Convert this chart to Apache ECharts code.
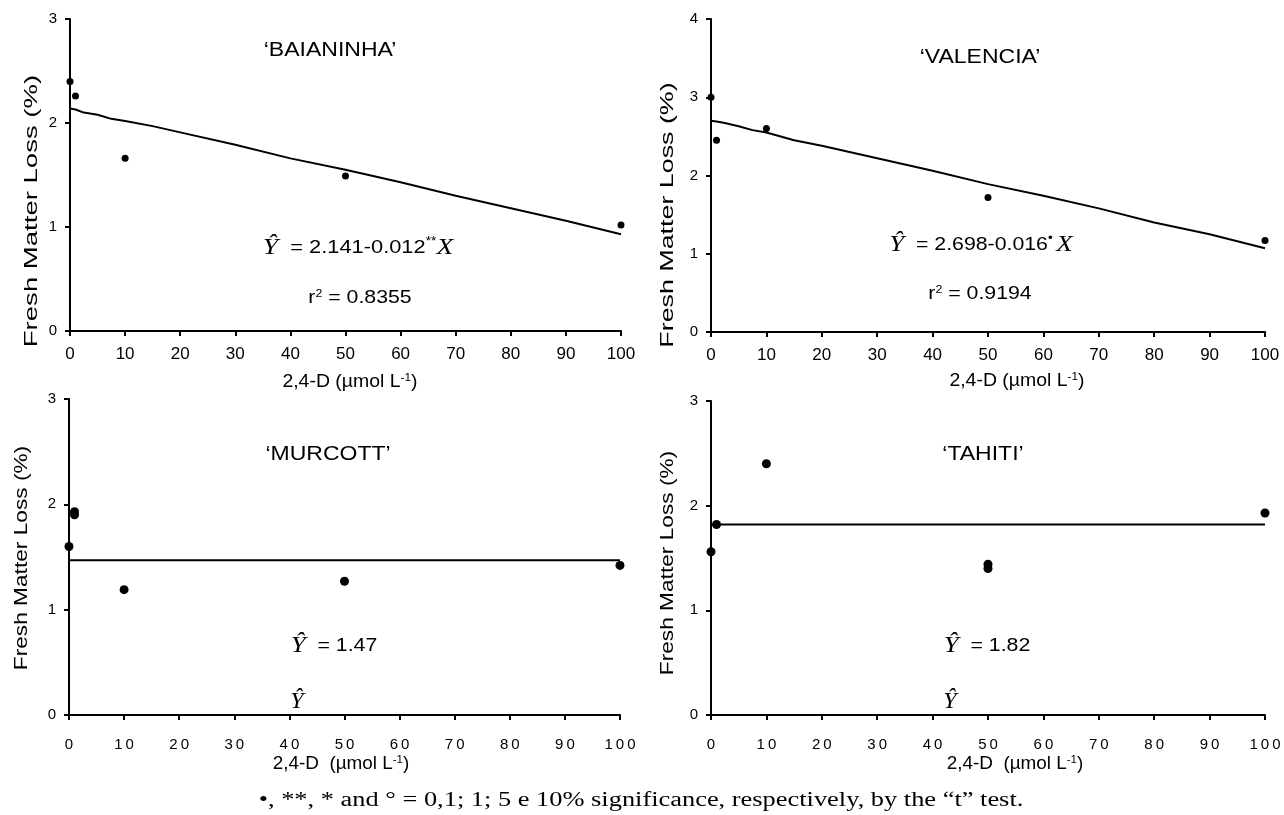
<!DOCTYPE html>
<html>
<head>
<meta charset="utf-8">
<script src="https://cdn.jsdelivr.net/npm/echarts@6/dist/echarts.min.js"></script>
<style>
html,body{margin:0;padding:0;background:#fff;}
#chart{width:1284px;height:815px;}
</style>
</head>
<body>
<div id="chart"></div>
<script>
// ---- Data ----
const xTickValues = [0, 10, 20, 30, 40, 50, 60, 70, 80, 90, 100];
const panelTitles = ["\u2018BAIANINHA\u2019", "\u2018VALENCIA\u2019", "\u2018MURCOTT\u2019", "\u2018TAHITI\u2019"];
const yMax = [3, 4, 3, 3];

const baianinhaX = [0, 1, 10, 50, 100];
const baianinhaY = [2.40, 2.26, 1.66, 1.49, 1.02];
const valenciaX = [0, 1, 10, 50, 100];
const valenciaY = [3.00, 2.45, 2.60, 1.72, 1.17];
const murcottX = [0, 1, 1, 10, 50, 100];
const murcottY = [1.60, 1.93, 1.90, 1.19, 1.27, 1.42];
const tahitiX = [0, 1, 10, 50, 50, 100];
const tahitiY = [1.56, 1.82, 2.40, 1.44, 1.40, 1.93];

const fitX = [0, 1, 2.5, 5, 7.5, 10, 15, 20, 30, 40, 50, 60, 70, 80, 90, 100];
const baianinhaFitY = [2.14, 2.13, 2.10, 2.08, 2.04, 2.02, 1.97, 1.91, 1.79, 1.66, 1.55, 1.43, 1.30, 1.18, 1.06, 0.93];
const valenciaFitY = [2.70, 2.69, 2.67, 2.63, 2.58, 2.55, 2.45, 2.38, 2.22, 2.06, 1.89, 1.74, 1.58, 1.40, 1.25, 1.07];
const flatFitX = [0, 100];
const murcottFitY = [1.47, 1.47];
const tahitiFitY = [1.82, 1.82];

// ---- Build ----
const zip = (xs, ys) => xs.map((x, i) => [x, ys[i]]);
const SANS = "Liberation Sans, Arial, sans-serif";
const SERIF = "Liberation Serif, Times New Roman, serif";

const grids = [
  {left: 70, top: 19, width: 551, height: 312},
  {left: 711, top: 19, width: 554, height: 313},
  {left: 69, top: 399, width: 551, height: 316},
  {left: 711, top: 401, width: 554, height: 314}
];

const xAxes = grids.map((g, i) => ({
  type: 'value', gridIndex: i, min: xTickValues[0], max: xTickValues[xTickValues.length - 1], interval: 10,
  axisLine: {lineStyle: {color: '#000', width: 2}},
  axisTick: {show: true, length: 5, lineStyle: {color: '#000', width: 2}},
  axisLabel: i < 2
    ? {color: '#000', fontSize: 17, fontFamily: SANS, margin: 15}
    : {color: '#000', fontSize: 15, fontFamily: SANS, margin: 22,
       formatter: v => String(v).split('').join('\u2009')},
  splitLine: {show: false}
}));

const yAxes = grids.map((g, i) => ({
  type: 'value', gridIndex: i, min: 0, max: yMax[i], interval: 1,
  axisLine: {lineStyle: {color: '#000', width: 2}},
  axisTick: {show: true, length: 5, lineStyle: {color: '#000', width: 2}},
  axisLabel: {color: '#000', fontSize: 15, fontFamily: SANS, margin: 13},
  splitLine: {show: false}
}));

const pointSets = [zip(baianinhaX, baianinhaY), zip(valenciaX, valenciaY), zip(murcottX, murcottY), zip(tahitiX, tahitiY)];
const fitSets = [zip(fitX, baianinhaFitY), zip(fitX, valenciaFitY), zip(flatFitX, murcottFitY), zip(flatFitX, tahitiFitY)];
const series = [];
pointSets.forEach((d, i) => {
  series.push({type: 'line', xAxisIndex: i, yAxisIndex: i, data: fitSets[i], showSymbol: false, symbol: 'none',
    lineStyle: {color: '#000', width: 2}, silent: true, animation: false});
  series.push({type: 'scatter', xAxisIndex: i, yAxisIndex: i, data: d, symbol: 'circle',
    symbolSize: i < 2 ? 7 : 9, itemStyle: {color: '#000', opacity: 1}, animation: false, z: 5});
});

const rich = {
  y: {fontFamily: SERIF, fontStyle: 'italic', fontSize: 24, fill: '#000', color: '#000'},
  x: {fontFamily: SERIF, fontStyle: 'italic', fontSize: 24, fill: '#000', color: '#000'},
  t: {fontFamily: SANS, fontSize: 19, fill: '#000', color: '#000'},
  st: {fontFamily: SANS, fontSize: 12, fill: '#000', color: '#000', verticalAlign: 'top', padding: [0, 0, 8, 0]},
  sup: {fontFamily: SANS, fontSize: 11, fill: '#000', color: '#000', verticalAlign: 'top', padding: [0, 0, 9, 0]},
  n: {fontFamily: SANS, fontSize: 18, fill: '#000', color: '#000'}
};
function txt(x, y, text, o) {
  o = o || {};
  return {type: 'text', x: x, y: y, z: 10, scaleX: o.sx || 1, rotation: o.rot || 0,
    style: {text: text, fill: '#000', fontFamily: o.font || SANS, fontSize: o.size || 19,
      align: 'center', verticalAlign: 'middle', rich: rich}};
}
const graphics = [];
// panel titles
const titleCenters = [[330, 50], [980, 57], [328, 454], [983, 454]];
panelTitles.forEach((t, i) => graphics.push(txt(titleCenters[i][0], titleCenters[i][1], t, {size: 20, sx: 1.15})));
// y axis names
const yName = 'Fresh Matter Loss (%)';
[[32, 211, 1.53], [668, 215, 1.49], [22, 558, 1.26], [668, 563, 1.26]].forEach(p =>
  graphics.push(txt(p[0], p[1], yName, {size: 18, sx: p[2], rot: Math.PI / 2})));
// x axis names
graphics.push(txt(350, 382, '{n|2,4-D (\u00b5mol L}{sup|-1}{n|)}', {sx: 1.08}));
graphics.push(txt(1017, 381, '{n|2,4-D (\u00b5mol L}{sup|-1}{n|)}', {sx: 1.08}));
graphics.push(txt(341, 764, '{n|2,4-D  (\u00b5mol L}{sup|-1}{n|)}', {sx: 1.05}));
graphics.push(txt(1015, 764, '{n|2,4-D  (\u00b5mol L}{sup|-1}{n|)}', {sx: 1.05}));
// equations
graphics.push(txt(358, 248, '{y|\u0176}{t|  = 2.141-0.012}{st|**}{x|X}', {sx: 1.15}));
graphics.push(txt(360, 298, '{t|r}{sup|2}{t| = 0.8355}', {sx: 1.12}));
graphics.push(txt(981, 245, '{y|\u0176}{t|  = 2.698-0.016}{st|\u2022 }{x|X}', {sx: 1.12}));
graphics.push(txt(980, 294, '{t|r}{sup|2}{t| = 0.9194}', {sx: 1.12}));
graphics.push(txt(334, 646, '{y|\u0176}{t|  = 1.47}', {sx: 1.12}));
graphics.push(txt(297, 702, '{y|\u0176}'));
graphics.push(txt(987, 646, '{y|\u0176}{t|  = 1.82}', {sx: 1.12}));
graphics.push(txt(950, 702, '{y|\u0176}'));
// footnote
graphics.push(txt(641, 801, '\u2022, **, * and \u00b0 = 0,1; 1; 5 e 10% significance, respectively, by the \u201ct\u201d test.',
  {font: SERIF, size: 20, sx: 1.32}));

const chart = echarts.init(document.getElementById('chart'), null, {renderer: 'canvas'});
chart.setOption({
  backgroundColor: '#fff',
  animation: false,
  grid: grids,
  xAxis: xAxes,
  yAxis: yAxes,
  series: series,
  graphic: graphics
});
</script>
</body>
</html>
